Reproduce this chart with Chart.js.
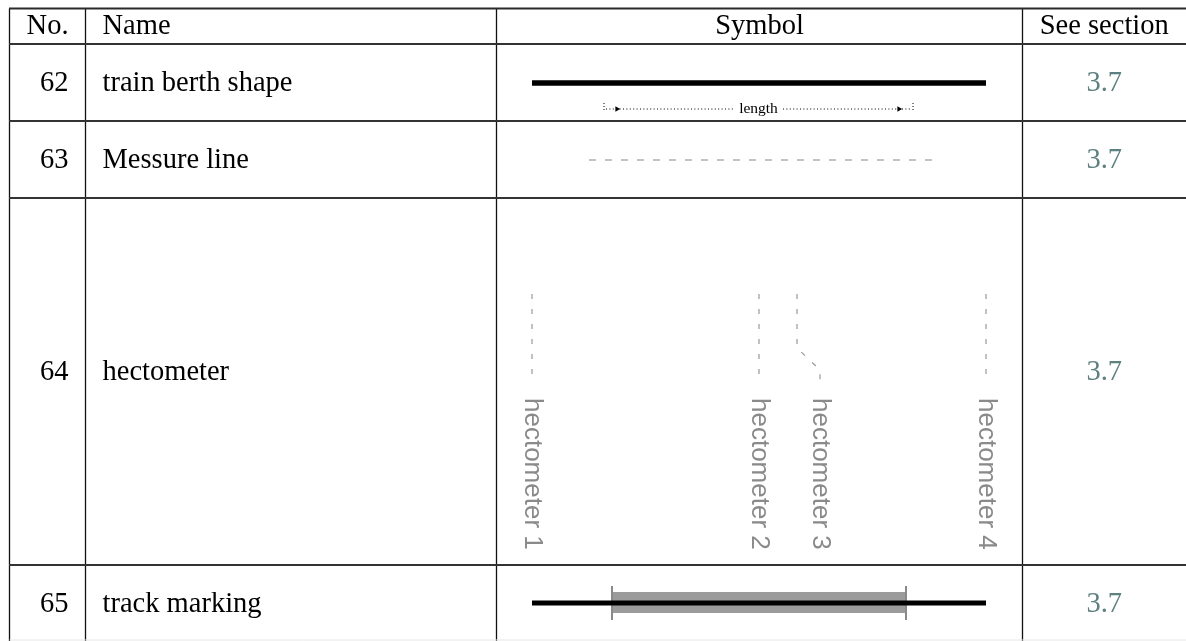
<!DOCTYPE html>
<html><head><meta charset="utf-8">
<script src="https://cdn.jsdelivr.net/npm/chart.js@4.4.1/dist/chart.umd.min.js"></script>
<style>html,body{margin:0;padding:0;background:#fff;overflow:hidden}canvas{display:block}</style>
</head><body>
<canvas id="c" width="1186" height="641"></canvas>
<script>
// ---- table content ----
const headers = ['No.', 'Name', 'Symbol', 'See section'];
const rowNumbers = ['62', '63', '64', '65'];
const rowNames = ['train berth shape', 'Messure line', 'hectometer', 'track marking'];
const sections = ['3.7', '3.7', '3.7', '3.7'];
const hectoLabels = ['hectometer 1', 'hectometer 2', 'hectometer 3', 'hectometer 4'];
const lengthLabel = 'length';

// ---- table structure (page units) ----
const colEdges = [9.5, 85.5, 496.5, 1022.5, 1186];
const rowEdges = [8.5, 44, 121, 198, 565, 640];
const textBaselines = [34, 91, 168, 380, 612];

// ---- symbol geometry (page units) ----
const berthLine = [[532, 83], [986, 83]];
const lengthDotsLeft = [[606, 109], [734, 109]];
const lengthDotsRight = [[783, 109], [912, 109]];
const lengthTicks = [[[604, 103], [604, 111]], [[913, 103], [913, 111]]];
const lengthArrows = [[617, 109], [899, 109]];
const measureLine = [[589, 160], [932, 160]];
const hectoPaths = [
  [[532, 294], [532, 381]],
  [[759, 294], [759, 381]],
  [[797, 294], [797, 348], [820, 370], [820, 388]],
  [[986, 294], [986, 381]]
];
const hectoLabelX = [532, 759, 820, 986];
const hectoLabelTop = 398;
const trackLine = [[532, 603], [986, 603]];
const markingBand = [[612, 602.5], [906, 602.5]];
const markingTicks = [[[612, 586], [612, 620]], [[906, 586], [906, 620]]];

const pts = a => a.map(p => ({x: p[0], y: p[1]}));
const datasets = [];
function line(points, color, width, dash, order, cap) {
  datasets.push({
    data: pts(points), showLine: true, borderColor: color, borderWidth: width,
    borderDash: dash || [], pointRadius: 0, order: order || 1, clip: false,
    borderCapStyle: cap || 'butt', tension: 0, fill: false
  });
}
// table lines
line([[colEdges[0] - 0.5, rowEdges[0]], [colEdges[4], rowEdges[0]]], '#2a2a2a', 2, null, 20);
for (let i = 1; i < rowEdges.length - 1; i++)
  line([[colEdges[0] - 0.5, rowEdges[i]], [colEdges[4], rowEdges[i]]], '#333', 2, null, 20);
line([[colEdges[0], rowEdges[5]], [colEdges[4], rowEdges[5]]], '#e6e6e6', 1, null, 20);
for (let i = 0; i < 4; i++)
  line([[colEdges[i], rowEdges[0]], [colEdges[i], 641]], '#111', 1.3, null, 20);

// row 62: train berth shape
line(berthLine, '#000', 5.5, null, 1);
line(lengthDotsLeft, '#000', 1, [1, 2.4], 1);
line(lengthDotsRight, '#000', 1, [1, 2.4], 1);
lengthTicks.forEach(t => line(t, '#000', 1, [1, 2], 1));
datasets.push({
  data: pts(lengthArrows), showLine: false, pointStyle: 'triangle', rotation: 90,
  pointRadius: 3.2, backgroundColor: '#000', borderColor: '#000', borderWidth: 0, order: 1, clip: false
});
// row 63: measure line
line(measureLine, '#b0b0b0', 1.6, [7, 9], 1);
// row 64: hectometers
hectoPaths.forEach(p => line(p, '#999', 1.2, [5, 10], 1));
// row 65: track marking
line(markingBand, '#9b9b9b', 21, null, 10);
line(trackLine, '#000', 5, null, 1);
markingTicks.forEach(t => line(t, '#8a8a8a', 2, null, 5));

const textPlugin = {
  id: 'tableText',
  afterDatasetsDraw(chart) {
    const ctx = chart.ctx, X = chart.scales.x, Y = chart.scales.y;
    const px = v => X.getPixelForValue(v), py = v => Y.getPixelForValue(v);
    ctx.save();
    const serif = '28.5px "Liberation Serif", "Times New Roman", serif';
    ctx.font = serif; ctx.fillStyle = '#000'; ctx.textBaseline = 'alphabetic';
    // headers
    ctx.textAlign = 'right'; ctx.fillText(headers[0], px(colEdges[1] - 17), py(textBaselines[0]));
    ctx.textAlign = 'left'; ctx.fillText(headers[1], px(colEdges[1] + 17), py(textBaselines[0]));
    ctx.textAlign = 'center';
    ctx.fillText(headers[2], px((colEdges[2] + colEdges[3]) / 2), py(textBaselines[0]));
    ctx.fillText(headers[3], px((colEdges[3] + colEdges[4]) / 2), py(textBaselines[0]));
    // rows
    for (let i = 0; i < rowNumbers.length; i++) {
      const b = py(textBaselines[i + 1]);
      ctx.fillStyle = '#000';
      ctx.textAlign = 'right'; ctx.fillText(rowNumbers[i], px(colEdges[1] - 17), b);
      ctx.textAlign = 'left'; ctx.fillText(rowNames[i], px(colEdges[1] + 17), b);
      ctx.fillStyle = '#5f8080';
      ctx.textAlign = 'center'; ctx.fillText(sections[i], px((colEdges[3] + colEdges[4]) / 2), b);
    }
    // length label
    ctx.fillStyle = '#000';
    ctx.font = '15.5px "Liberation Serif", "Times New Roman", serif';
    ctx.textAlign = 'center'; ctx.textBaseline = 'middle';
    ctx.fillText(lengthLabel, px((lengthDotsLeft[1][0] + lengthDotsRight[0][0]) / 2), py(109));
    // hectometer labels (rotated)
    ctx.font = '26px "Liberation Sans", Arial, sans-serif';
    ctx.fillStyle = '#8a8a8a';
    hectoLabels.forEach((t, i) => {
      ctx.save();
      ctx.translate(px(hectoLabelX[i]), py(hectoLabelTop));
      ctx.rotate(Math.PI / 2);
      ctx.textAlign = 'left'; ctx.textBaseline = 'middle';
      ctx.fillText(t, 0, 0);
      ctx.restore();
    });
    ctx.restore();
  }
};

new Chart(document.getElementById('c'), {
  type: 'scatter',
  data: {datasets},
  options: {
    responsive: false, animation: false, devicePixelRatio: 1,
    layout: {padding: 0, autoPadding: false},
    plugins: {legend: {display: false}, tooltip: {enabled: false}},
    events: [],
    scales: {
      x: {type: 'linear', min: 0, max: 1186, display: false},
      y: {type: 'linear', min: 0, max: 641, reverse: true, display: false}
    }
  },
  plugins: [textPlugin]
});
</script>
</body></html>
